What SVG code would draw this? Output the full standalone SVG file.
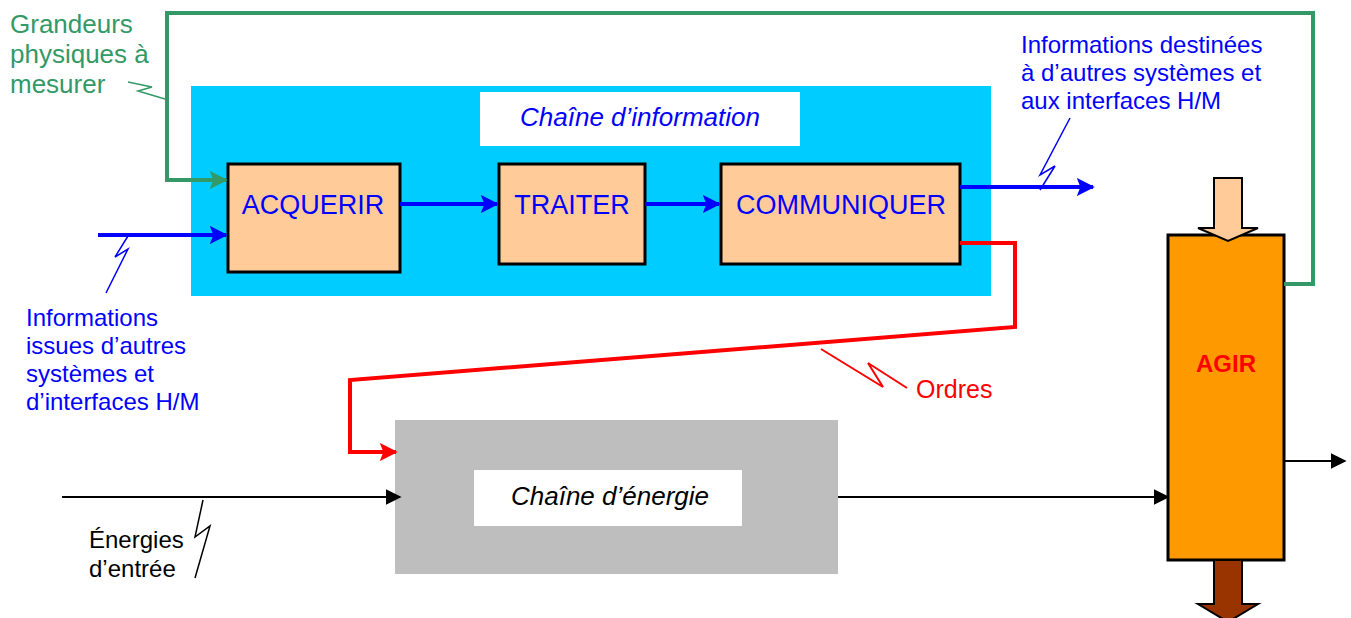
<svg xmlns="http://www.w3.org/2000/svg" width="1351" height="618" viewBox="0 0 1351 618">
<style>
text{font-family:"Liberation Sans",Arial,sans-serif}
.blk{fill:#FFCC99;stroke:#000;stroke-width:3}
.bt{fill:#0000FF;font-size:27px;text-anchor:middle}
.lbl{font-size:24px}
.bl{fill:#0000FF}
.gr{fill:#339966}
.ln{fill:none;stroke-width:1.5}
</style>
<defs>
<marker id="ab" viewBox="0 0 10 10" refX="9" refY="5" markerWidth="4.5" markerHeight="4.5" orient="auto" markerUnits="strokeWidth"><path d="M0,0 L10,5 L0,10 L2,5 z" fill="#0000FF"/></marker>
<marker id="ag" viewBox="0 0 10 10" refX="9" refY="5" markerWidth="4.5" markerHeight="4.5" orient="auto" markerUnits="strokeWidth"><path d="M0,0 L10,5 L0,10 L2,5 z" fill="#339966"/></marker>
<marker id="ar" viewBox="0 0 10 10" refX="9" refY="5" markerWidth="4.5" markerHeight="4.5" orient="auto" markerUnits="strokeWidth"><path d="M0,0 L10,5 L0,10 L2,5 z" fill="#FF0000"/></marker>
<marker id="ak" viewBox="0 0 10 10" refX="9" refY="5" markerWidth="8" markerHeight="8" orient="auto" markerUnits="strokeWidth"><path d="M0,0 L10,5 L0,10 z" fill="#000"/></marker>
</defs>

<g id="chaine-information">
<rect x="191" y="86" width="800" height="210" fill="#00CCFF"/>
<rect x="480" y="92" width="320" height="54" fill="#fff"/>
<text x="640" y="126" font-size="26" font-style="italic" fill="#0000FF" text-anchor="middle">Chaîne d’information</text>
</g>
<g id="acquerir"><rect class="blk" x="228" y="164" width="172" height="108"/><text class="bt" x="313" y="214">ACQUERIR</text></g>
<g id="traiter"><rect class="blk" x="499" y="164" width="146" height="100"/><text class="bt" x="572" y="214">TRAITER</text></g>
<g id="communiquer"><rect class="blk" x="721" y="164" width="239" height="100"/><text class="bt" x="841" y="214">COMMUNIQUER</text></g>

<g id="chaine-energie">
<rect x="395" y="420" width="443" height="154" fill="#BEBEBE"/>
<rect x="474" y="470" width="268" height="56" fill="#fff"/>
<text x="610" y="505" font-size="26" font-style="italic" fill="#000" text-anchor="middle">Chaîne d’énergie</text>
</g>

<g id="agir">
<rect x="1168" y="235" width="116" height="325" fill="#FF9900" stroke="#000" stroke-width="3"/>
<path d="M1214,178 H1242 V228 H1258 L1228,241 L1198,228 H1214 Z" fill="#FFCC99" stroke="#000" stroke-width="2"/>
<path d="M1214,560 H1242 V604 H1258 L1228,622 L1198,604 H1214 Z" fill="#993300" stroke="#000" stroke-width="2"/>
<text x="1226" y="372" font-size="24" font-weight="bold" fill="#FF0000" text-anchor="middle">AGIR</text>
</g>

<g id="connectors">
<path d="M1284,284 H1313 V13 H167 V180 H226" fill="none" stroke="#339966" stroke-width="4" marker-end="url(#ag)"/>
<path d="M98,235 H226" fill="none" stroke="#0000FF" stroke-width="4" marker-end="url(#ab)"/>
<path d="M400,204 H497" fill="none" stroke="#0000FF" stroke-width="4" marker-end="url(#ab)"/>
<path d="M645,204 H719" fill="none" stroke="#0000FF" stroke-width="4" marker-end="url(#ab)"/>
<path d="M960,187 H1093" fill="none" stroke="#0000FF" stroke-width="4" marker-end="url(#ab)"/>
<path d="M960,243 H1015 V327 L350,380 V452 H396" fill="none" stroke="#FF0000" stroke-width="4" marker-end="url(#ar)"/>
<path d="M62,497 H400" fill="none" stroke="#000" stroke-width="2" marker-end="url(#ak)"/>
<path d="M838,497 H1168" fill="none" stroke="#000" stroke-width="2" marker-end="url(#ak)"/>
<path d="M1284,461 H1345" fill="none" stroke="#000" stroke-width="2" marker-end="url(#ak)"/>
</g>

<g id="labels">
<text class="gr" font-size="26"><tspan x="10" y="33">Grandeurs</tspan><tspan x="10" y="63">physiques à</tspan><tspan x="10" y="93">mesurer</tspan></text>
<path class="ln" d="M128,82 L152,87 L138,91 L165,99" stroke="#339966"/>
<text class="lbl bl"><tspan x="1021" y="53">Informations destinées</tspan><tspan x="1021" y="81">à d’autres systèmes et</tspan><tspan x="1021" y="109">aux interfaces H/M</tspan></text>
<path class="ln" d="M1070,118 L1040,175 L1055,166 L1040,190" stroke="#0000FF"/>
<text class="lbl bl"><tspan x="26" y="326">Informations</tspan><tspan x="26" y="354">issues d’autres</tspan><tspan x="26" y="382">systèmes et</tspan><tspan x="26" y="410">d’interfaces H/M</tspan></text>
<path class="ln" d="M128,236 L115,257 L128,249 L106,293" stroke="#0000FF"/>
<text x="916" y="398" font-size="25" fill="#FF0000" font-family="'Comic Sans MS','DejaVu Sans',sans-serif">Ordres</text>
<path d="M821,349 L883,387 L868,363 L907,388" fill="none" stroke="#FF0000" stroke-width="2"/>
<text class="lbl" fill="#000"><tspan x="89" y="548">Énergies</tspan><tspan x="89" y="577">d’entrée</tspan></text>
<path class="ln" d="M203,500 L195,537 L210,526 L195,578" stroke="#000" stroke-width="1.2"/>
</g>
</svg>
